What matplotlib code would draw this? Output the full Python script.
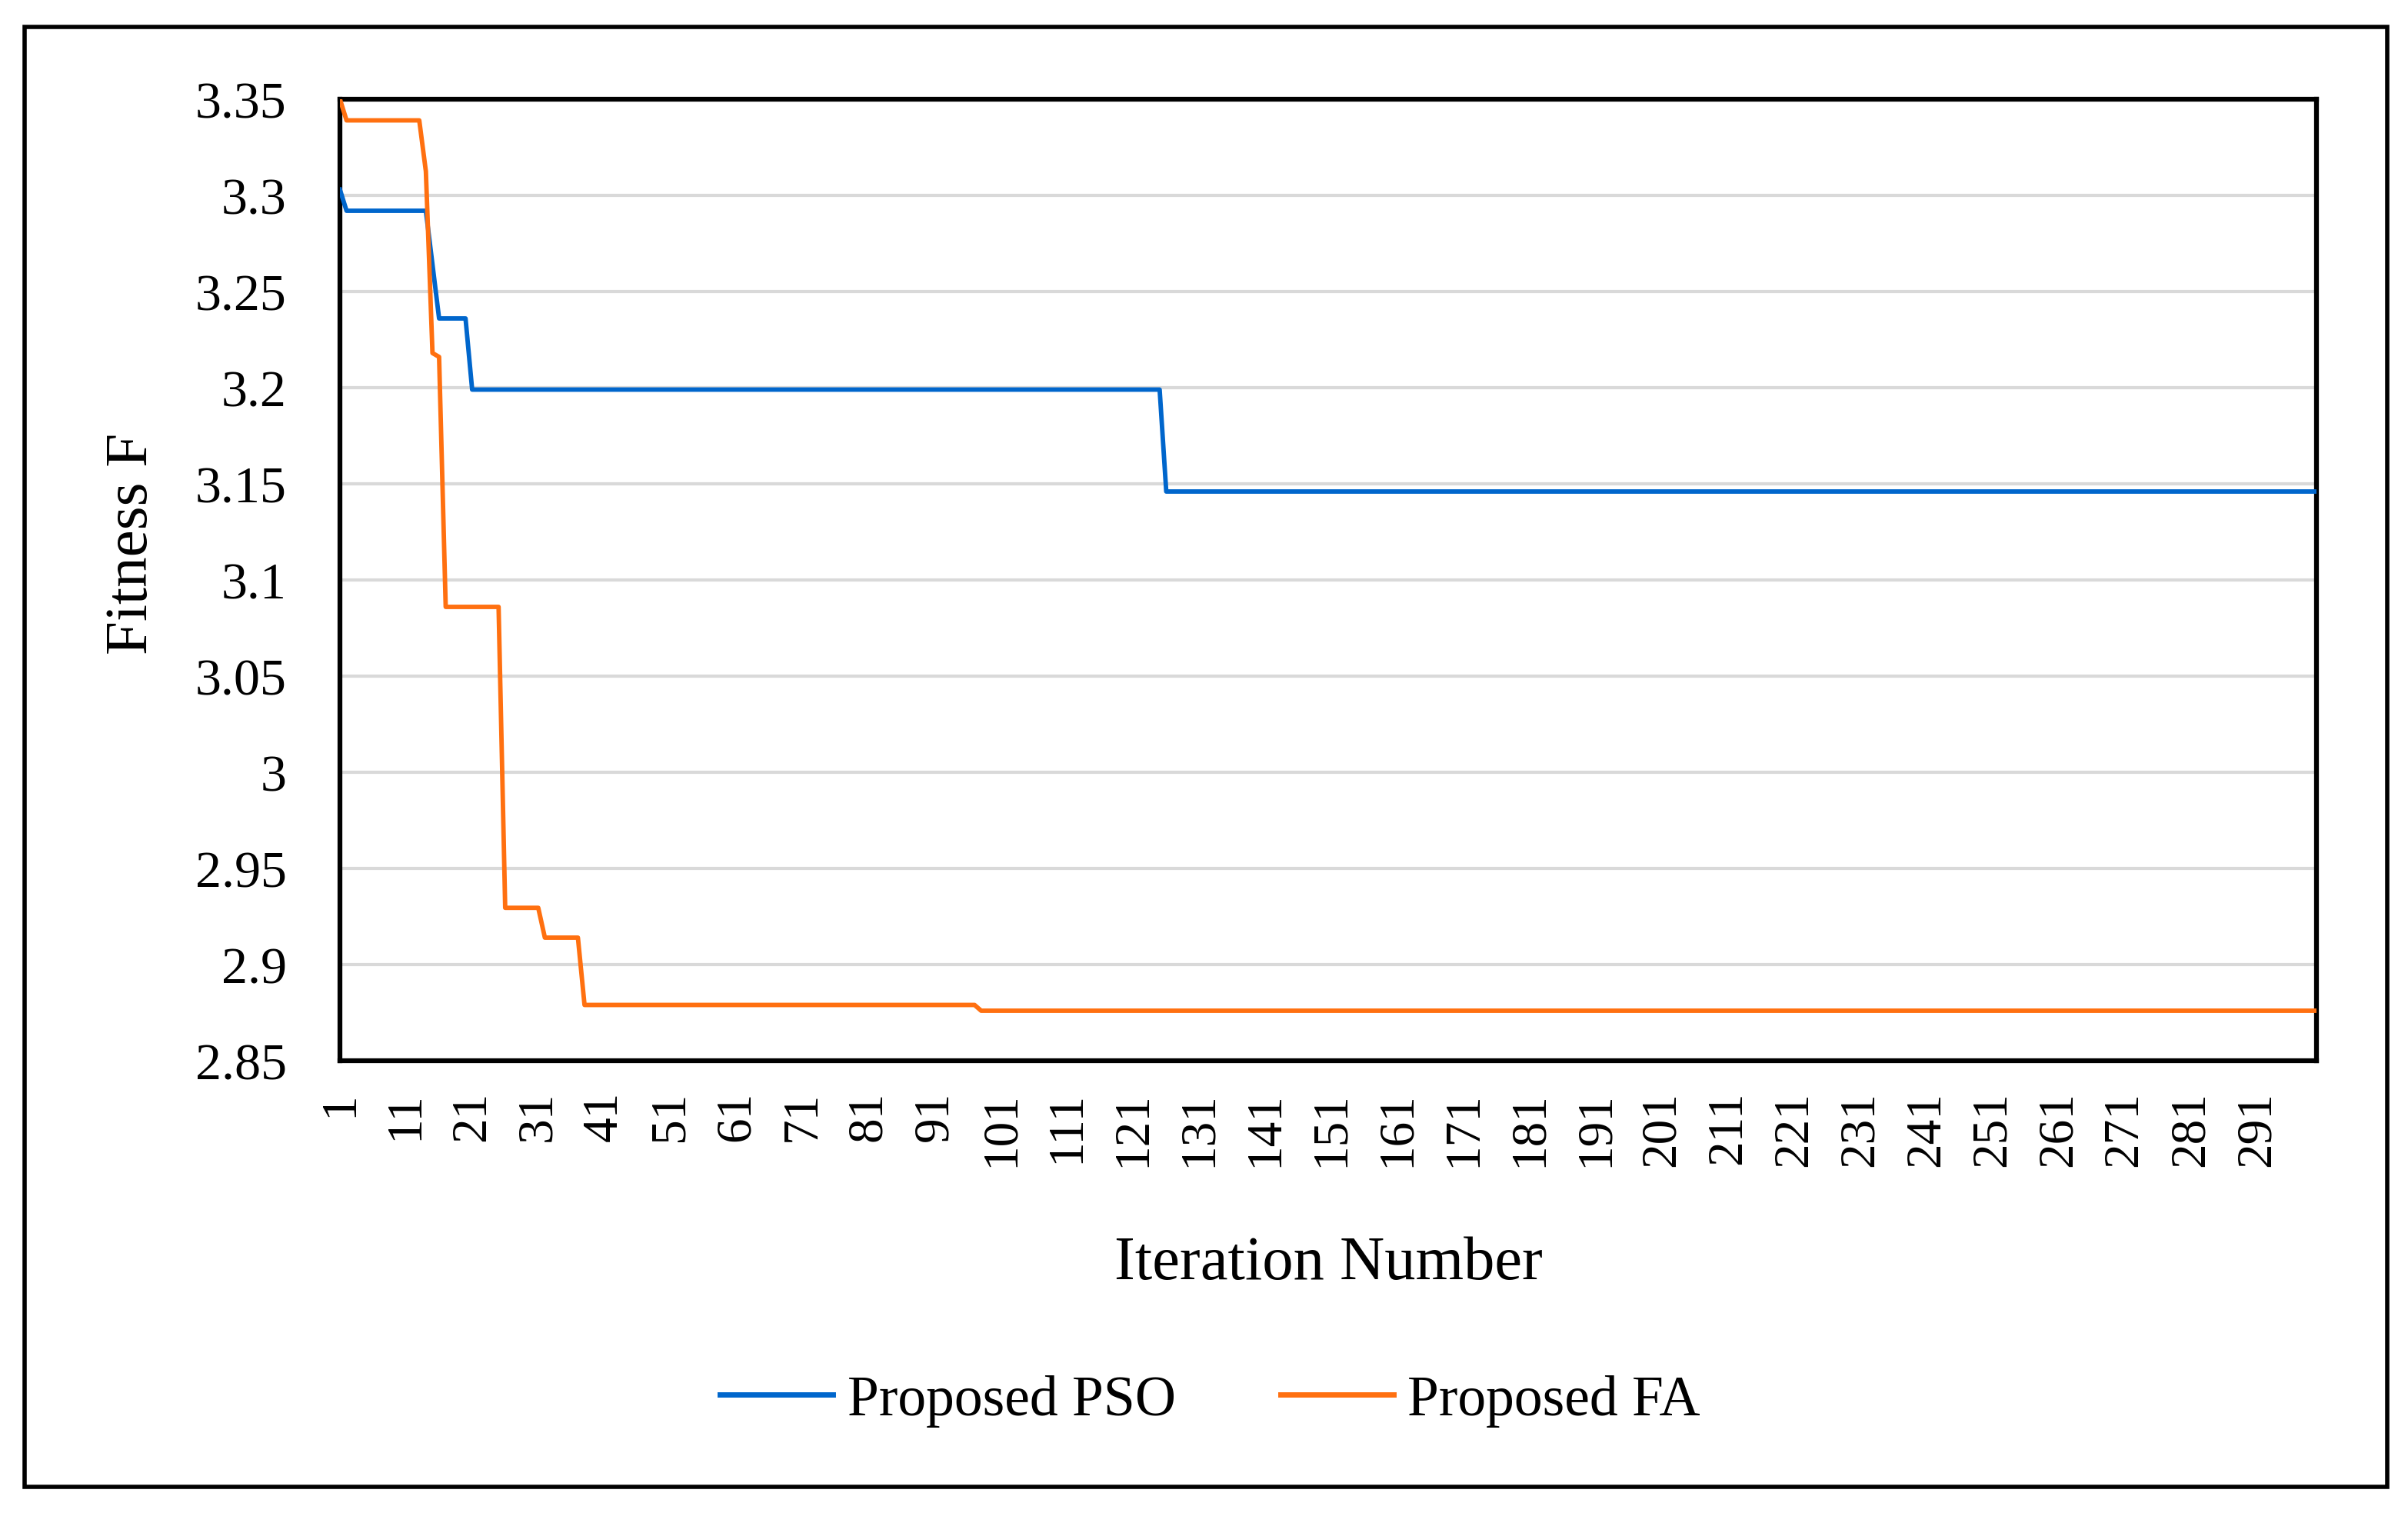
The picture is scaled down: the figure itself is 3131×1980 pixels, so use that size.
import matplotlib
matplotlib.use('Agg')
import matplotlib.pyplot as plt
import numpy as np
from matplotlib.patches import Rectangle

plt.rcParams['font.family'] = ['Liberation Serif', 'DejaVu Serif']

# --- dados ---
n_iter = 300
iteracoes = np.arange(1, n_iter + 1)

# PSO: iteração em que começa cada patamar e o seu valor
pso_iter = [1, 2, 15, 16, 21, 126]
pso_val = [3.303, 3.292, 3.264, 3.236, 3.199, 3.146]

# FA: iteração em que começa cada patamar e o seu valor
fa_iter = [1, 2, 14, 15, 16, 17, 26, 32, 38, 98]
fa_val = [3.350, 3.339, 3.3125, 3.218, 3.216, 3.086, 2.9295, 2.914, 2.879, 2.876]

tick_labels = [str(i) for i in range(1, 300, 10)]
y_ticks = [2.85, 2.9, 2.95, 3.0, 3.05, 3.1, 3.15, 3.2, 3.25, 3.3, 3.35]
y_tick_labels = ['2.85', '2.9', '2.95', '3', '3.05', '3.1', '3.15', '3.2', '3.25', '3.3', '3.35']


def expandir(inicios, valores, n):
    serie = np.zeros(n)
    for i, (ini, v) in enumerate(zip(inicios, valores)):
        fim = inicios[i + 1] - 1 if i + 1 < len(inicios) else n
        serie[ini - 1:fim] = v
    return serie


pso = expandir(pso_iter, pso_val, n_iter)
fa = expandir(fa_iter, fa_val, n_iter)

# --- figura ---
W, H = 3131, 1981
fig = plt.figure(figsize=(W / 100, H / 100), dpi=100)
ax = fig.add_axes([442 / W, 1 - 1380 / H, (3012 - 442) / W, (1380 - 130) / H])

cor_pso = '#0066cc'
cor_fa = '#ff7010'
ax.plot(iteracoes, pso, color=cor_pso, linewidth=4.2, label='Proposed PSO', zorder=3)
ax.plot(iteracoes, fa, color=cor_fa, linewidth=4.2, label='Proposed FA', zorder=3)

ax.set_xlim(1, n_iter)
ax.set_ylim(2.85, 3.35)
ax.set_yticks(y_ticks)
ax.set_yticklabels(y_tick_labels, fontsize=49)
ax.set_xticks(range(1, 300, 10))
ax.set_xticklabels(tick_labels, rotation=90, fontsize=47)
ax.tick_params(axis='y', length=0, pad=50)
ax.tick_params(axis='x', length=0, pad=28)

ax.grid(axis='y', color='#d9d9d9', linewidth=3)
ax.set_axisbelow(True)
for s in ax.spines.values():
    s.set_linewidth(4.5)
    s.set_color('black')

ax.set_xlabel('Iteration Number', fontsize=58, labelpad=65)
ax.set_ylabel('Fitness F', fontsize=57)
# posição do rótulo do eixo y (centro em px: x=172, y=707)
ax.yaxis.set_label_coords((172 - 442) / (3012 - 442), (1380 - 707) / (1380 - 130))
ax.yaxis.label.set_va('center')

leg = fig.legend(loc='center', bbox_to_anchor=(0.5 + 8 / W, 1 - 1822 / H), ncol=2,
                 frameon=False, fontsize=53, handlelength=2.0, handletextpad=0.25,
                 columnspacing=1.85)
for l in leg.get_lines():
    l.set_linewidth(5)

# moldura externa
fig.patches.append(Rectangle((32 / W, 1 - 1934 / H), (3104 - 32) / W, (1934 - 36) / H,
                             transform=fig.transFigure, fill=False, edgecolor='black',
                             linewidth=4))

fig.savefig('out.png', dpi=100)
